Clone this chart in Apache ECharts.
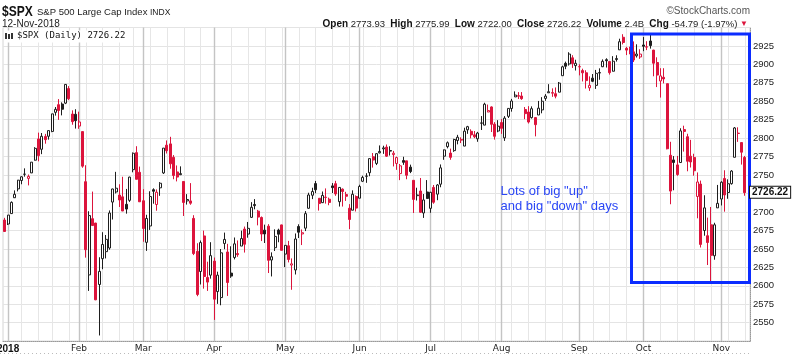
<!DOCTYPE html>
<html><head><meta charset="utf-8">
<script src="https://cdn.jsdelivr.net/npm/echarts@6/dist/echarts.min.js"></script>
<style>html,body{margin:0;padding:0;background:#fff}#c{width:800px;height:356px}</style>
</head><body><div id="c"></div>
<script>
// ---- data ----
const dates = [
"2017-12-29",
"2018-01-02","2018-01-03","2018-01-04","2018-01-05","2018-01-08","2018-01-09","2018-01-10","2018-01-11","2018-01-12","2018-01-16","2018-01-17","2018-01-18","2018-01-19","2018-01-22","2018-01-23","2018-01-24","2018-01-25","2018-01-26","2018-01-29","2018-01-30","2018-01-31",
"2018-02-01","2018-02-02","2018-02-05","2018-02-06","2018-02-07","2018-02-08","2018-02-09","2018-02-12","2018-02-13","2018-02-14","2018-02-15","2018-02-16","2018-02-20","2018-02-21","2018-02-22","2018-02-23","2018-02-26","2018-02-27","2018-02-28",
"2018-03-01","2018-03-02","2018-03-05","2018-03-06","2018-03-07","2018-03-08","2018-03-09","2018-03-12","2018-03-13","2018-03-14","2018-03-15","2018-03-16","2018-03-19","2018-03-20","2018-03-21","2018-03-22","2018-03-23","2018-03-26","2018-03-27","2018-03-28","2018-03-29",
"2018-04-02","2018-04-03","2018-04-04","2018-04-05","2018-04-06","2018-04-09","2018-04-10","2018-04-11","2018-04-12","2018-04-13","2018-04-16","2018-04-17","2018-04-18","2018-04-19","2018-04-20","2018-04-23","2018-04-24","2018-04-25","2018-04-26","2018-04-27","2018-04-30",
"2018-05-01","2018-05-02","2018-05-03","2018-05-04","2018-05-07","2018-05-08","2018-05-09","2018-05-10","2018-05-11","2018-05-14","2018-05-15","2018-05-16","2018-05-17","2018-05-18","2018-05-21","2018-05-22","2018-05-23","2018-05-24","2018-05-25","2018-05-29","2018-05-30","2018-05-31",
"2018-06-01","2018-06-04","2018-06-05","2018-06-06","2018-06-07","2018-06-08","2018-06-11","2018-06-12","2018-06-13","2018-06-14","2018-06-15","2018-06-18","2018-06-19","2018-06-20","2018-06-21","2018-06-22","2018-06-25","2018-06-26","2018-06-27","2018-06-28","2018-06-29",
"2018-07-02","2018-07-03","2018-07-05","2018-07-06","2018-07-09","2018-07-10","2018-07-11","2018-07-12","2018-07-13","2018-07-16","2018-07-17","2018-07-18","2018-07-19","2018-07-20","2018-07-23","2018-07-24","2018-07-25","2018-07-26","2018-07-27","2018-07-30","2018-07-31",
"2018-08-01","2018-08-02","2018-08-03","2018-08-06","2018-08-07","2018-08-08","2018-08-09","2018-08-10","2018-08-13","2018-08-14","2018-08-15","2018-08-16","2018-08-17","2018-08-20","2018-08-21","2018-08-22","2018-08-23","2018-08-24","2018-08-27","2018-08-28","2018-08-29","2018-08-30","2018-08-31",
"2018-09-04","2018-09-05","2018-09-06","2018-09-07","2018-09-10","2018-09-11","2018-09-12","2018-09-13","2018-09-14","2018-09-17","2018-09-18","2018-09-19","2018-09-20","2018-09-21","2018-09-24","2018-09-25","2018-09-26","2018-09-27","2018-09-28",
"2018-10-01","2018-10-02","2018-10-03","2018-10-04","2018-10-05","2018-10-08","2018-10-09","2018-10-10","2018-10-11","2018-10-12","2018-10-15","2018-10-16","2018-10-17","2018-10-18","2018-10-19","2018-10-22","2018-10-23","2018-10-24","2018-10-25","2018-10-26","2018-10-29","2018-10-30","2018-10-31",
"2018-11-01","2018-11-02","2018-11-05","2018-11-06","2018-11-07","2018-11-08","2018-11-09","2018-11-12"
];
const open = [
2689.15,
2683.73,2697.85,2719.31,2731.33,2742.67,2751.15,2745.55,2752.97,2770.18,2798.96,2784.99,2802.40,2802.60,2809.16,2835.05,2845.42,2846.24,2847.48,2867.23,2832.74,2832.41,
2816.45,2808.92,2741.06,2614.78,2690.95,2685.01,2601.78,2636.75,2646.27,2651.21,2713.46,2727.14,2722.99,2720.53,2710.42,2715.80,2757.37,2780.45,2753.78,
2715.22,2658.89,2681.06,2730.18,2710.18,2732.75,2752.91,2790.54,2792.31,2774.06,2754.27,2750.57,2741.38,2715.05,2714.99,2691.36,2646.71,2619.35,2667.57,2611.30,2614.41,
2633.45,2592.17,2584.04,2657.36,2645.82,2617.18,2638.41,2643.69,2653.83,2676.90,2670.10,2692.74,2710.11,2701.16,2692.56,2675.40,2680.80,2634.92,2651.65,2675.47,2682.51,
2642.96,2654.24,2628.08,2621.45,2680.34,2670.26,2678.12,2705.02,2722.70,2738.47,2718.59,2712.62,2719.71,2717.35,2735.39,2738.34,2713.98,2730.94,2723.60,2705.11,2702.43,2720.98,
2718.70,2741.67,2748.46,2753.25,2774.84,2765.84,2780.18,2785.60,2787.94,2783.21,2777.78,2765.79,2752.01,2769.73,2769.28,2760.79,2742.94,2722.12,2728.45,2698.69,2727.13,
2704.95,2733.27,2724.19,2737.68,2775.62,2788.56,2779.82,2783.14,2796.93,2797.36,2789.34,2811.35,2809.37,2804.55,2799.17,2820.68,2817.73,2835.49,2842.35,2819.00,2809.73,
2821.17,2800.48,2829.62,2840.29,2855.92,2856.79,2857.19,2838.90,2835.46,2827.88,2827.95,2831.44,2838.32,2853.93,2861.51,2860.99,2860.29,2862.35,2884.69,2901.45,2900.62,2908.94,2898.37,
2896.96,2891.59,2888.64,2868.26,2881.39,2871.57,2888.29,2896.85,2906.38,2903.83,2890.74,2906.60,2919.73,2936.76,2921.83,2921.75,2916.98,2911.65,2910.03,
2926.29,2923.80,2931.69,2919.35,2902.54,2877.53,2882.51,2873.90,2776.87,2770.54,2763.83,2767.05,2811.67,2802.00,2775.66,2773.94,2721.03,2737.87,2674.88,2667.86,2682.65,2640.68,2705.60,
2717.58,2745.45,2726.37,2738.40,2774.13,2806.38,2794.10,2773.93
];
const high = [
2692.12,
2695.89,2714.37,2729.29,2743.45,2748.51,2759.14,2750.80,2767.56,2787.85,2807.54,2807.04,2805.83,2810.33,2833.03,2842.24,2852.97,2848.56,2872.87,2870.62,2837.75,2839.26,
2835.96,2808.92,2763.39,2701.04,2727.67,2685.27,2638.67,2672.61,2668.84,2702.10,2731.51,2754.42,2737.60,2747.75,2731.26,2747.76,2780.64,2789.15,2761.52,
2730.89,2696.25,2728.09,2732.08,2730.60,2740.45,2786.57,2796.98,2801.90,2777.11,2763.03,2761.85,2741.38,2724.22,2739.14,2695.68,2657.67,2661.36,2674.78,2632.65,2659.07,
2638.30,2619.14,2649.86,2672.08,2656.88,2653.55,2665.45,2661.43,2674.72,2680.26,2686.49,2713.34,2717.49,2702.84,2693.94,2682.86,2683.55,2645.30,2676.48,2677.35,2682.87,
2655.27,2660.87,2637.14,2670.93,2683.35,2676.34,2701.27,2726.11,2732.86,2742.10,2718.59,2727.76,2731.96,2719.50,2739.19,2742.24,2733.33,2731.97,2727.36,2710.67,2729.34,2722.50,
2736.93,2749.16,2752.61,2772.39,2779.90,2779.39,2790.21,2789.80,2791.47,2789.06,2782.81,2774.99,2765.05,2774.86,2769.28,2764.17,2742.94,2732.91,2746.09,2724.34,2743.26,
2727.26,2736.58,2737.83,2764.41,2784.65,2795.58,2785.91,2799.22,2804.53,2801.19,2814.19,2816.76,2812.05,2809.70,2808.61,2829.99,2848.03,2845.57,2843.17,2821.74,2824.46,
2825.83,2829.91,2840.38,2853.29,2863.43,2862.44,2862.48,2842.20,2843.40,2843.11,2827.95,2850.49,2855.63,2859.76,2873.23,2867.54,2868.78,2876.16,2898.25,2903.77,2916.50,2912.46,2906.32,
2900.18,2894.21,2892.05,2883.81,2886.93,2892.52,2894.65,2906.76,2908.30,2904.65,2911.17,2912.36,2934.80,2940.91,2923.79,2923.95,2931.15,2927.22,2920.53,
2937.06,2931.42,2939.86,2919.78,2909.64,2894.83,2894.83,2874.02,2795.14,2775.77,2775.99,2813.46,2816.94,2806.04,2797.77,2778.94,2753.59,2742.59,2722.70,2692.38,2706.85,2685.43,2736.69,
2741.67,2756.55,2744.27,2756.82,2815.15,2814.75,2794.10,2775.99
];
const low = [
2673.61,
2682.36,2697.77,2719.07,2727.92,2737.60,2747.86,2736.06,2752.78,2769.64,2768.64,2778.38,2792.56,2798.08,2808.12,2830.59,2824.81,2830.94,2846.18,2851.48,2818.27,2813.04,
2812.70,2759.97,2638.17,2593.07,2681.33,2580.56,2532.69,2622.45,2637.08,2648.87,2689.82,2725.11,2706.76,2701.29,2697.77,2713.74,2753.78,2744.22,2713.54,
2659.65,2647.32,2675.75,2711.26,2701.74,2721.92,2751.54,2779.26,2758.68,2744.38,2741.47,2749.97,2694.59,2710.05,2709.79,2641.59,2585.89,2601.81,2596.12,2593.06,2609.72,
2553.80,2575.49,2573.61,2649.58,2586.27,2610.79,2635.78,2639.25,2653.83,2645.05,2665.16,2692.05,2703.63,2681.90,2660.61,2657.99,2617.32,2612.67,2647.16,2659.01,2648.04,
2625.41,2631.70,2594.62,2615.32,2664.70,2655.20,2674.14,2704.54,2717.45,2725.47,2701.91,2712.17,2711.36,2709.18,2725.70,2721.88,2707.38,2707.38,2714.99,2676.81,2702.43,2700.68,
2718.70,2740.54,2739.51,2748.46,2760.16,2763.59,2779.39,2778.78,2774.65,2776.52,2761.73,2757.12,2743.19,2763.91,2744.39,2752.68,2698.67,2715.60,2698.95,2691.99,2718.03,
2698.95,2711.16,2716.02,2733.52,2770.73,2786.24,2770.77,2781.53,2791.69,2793.39,2789.24,2805.89,2799.77,2800.01,2795.14,2811.12,2817.73,2835.26,2808.34,2798.11,2808.06,
2805.85,2796.34,2827.37,2835.98,2855.92,2853.09,2851.98,2825.81,2819.88,2826.58,2802.49,2831.44,2833.73,2850.62,2861.32,2856.05,2854.03,2862.35,2884.69,2893.50,2898.40,2895.22,2891.73,
2885.13,2876.92,2867.29,2864.12,2875.94,2866.78,2879.20,2896.39,2895.77,2886.16,2890.43,2903.82,2919.73,2927.11,2912.63,2913.70,2903.28,2909.27,2907.50,
2917.91,2919.37,2921.36,2883.92,2869.29,2855.04,2874.27,2784.86,2710.51,2729.44,2749.03,2766.91,2781.81,2755.18,2760.27,2749.22,2691.43,2651.89,2667.84,2628.16,2603.54,2635.34,2705.60,
2708.85,2700.44,2717.94,2737.08,2774.13,2794.99,2764.24,2722.00
];
const close = [
2673.61,
2695.81,2713.06,2723.99,2743.15,2747.71,2751.29,2748.23,2767.56,2786.24,2776.42,2802.56,2798.03,2810.30,2832.97,2839.13,2837.54,2839.25,2872.87,2853.53,2822.43,2823.81,
2821.98,2762.13,2648.94,2695.14,2681.66,2581.00,2619.55,2656.00,2662.94,2698.63,2731.20,2732.22,2716.26,2701.33,2703.96,2747.30,2779.60,2744.28,2713.83,
2677.67,2691.25,2720.94,2728.12,2726.80,2738.97,2786.57,2783.02,2765.31,2749.48,2747.33,2752.01,2712.92,2716.94,2711.93,2643.69,2588.26,2658.55,2612.62,2605.00,2640.87,
2581.88,2614.45,2644.69,2662.84,2604.47,2613.16,2656.87,2642.19,2663.99,2656.30,2677.84,2706.39,2708.64,2693.13,2670.14,2670.29,2634.56,2639.40,2666.94,2669.91,2648.05,
2654.80,2635.67,2629.73,2663.42,2672.63,2671.92,2697.79,2723.07,2727.72,2730.13,2711.45,2722.46,2720.13,2712.97,2733.01,2724.44,2733.29,2727.76,2721.33,2689.86,2724.01,2705.27,
2734.62,2746.87,2748.80,2772.35,2770.37,2779.03,2782.00,2786.85,2775.63,2782.49,2779.66,2773.75,2762.59,2767.32,2749.76,2754.88,2717.07,2723.06,2699.63,2716.31,2718.37,
2726.71,2713.22,2736.61,2759.82,2784.17,2793.84,2774.02,2798.29,2801.31,2798.43,2809.55,2815.62,2804.49,2801.83,2806.98,2820.40,2846.07,2837.44,2818.82,2802.60,2816.29,
2813.36,2827.22,2840.35,2850.40,2858.45,2857.70,2853.58,2833.28,2821.93,2839.96,2818.37,2840.69,2850.13,2857.05,2862.96,2861.82,2856.98,2874.69,2896.74,2897.52,2914.04,2901.13,2901.52,
2896.72,2888.60,2878.05,2871.68,2877.13,2887.89,2888.92,2904.18,2904.98,2888.80,2904.31,2907.95,2930.75,2929.67,2919.37,2915.56,2905.97,2914.00,2913.98,
2924.59,2923.43,2925.51,2901.61,2885.57,2884.43,2880.34,2785.68,2728.37,2767.13,2750.79,2809.92,2809.21,2768.78,2767.78,2755.88,2740.69,2656.10,2705.57,2658.69,2641.25,2682.63,2711.74,
2740.37,2723.06,2738.31,2755.45,2813.89,2806.83,2781.01,2726.22
];
const closeBeforeFirst = 2687.54;   // 28-Dec-2017 close, used only for the first candle's colour
const yTickValues = [2550,2575,2600,2625,2650,2675,2700,2725,2750,2775,2800,2825,2850,2875,2900,2925];
const monthNames = ["2018","Feb","Mar","Apr","May","Jun","Jul","Aug","Sep","Oct","Nov","Dec"];
const headerQuote = {open:"2773.93", high:"2775.99", low:"2722.00", close:"2726.22", volume:"2.4B", chg:"-54.79 (-1.97%)"};
const noteLines = ['Lots of big "up"', 'and big "down" days'];

// ---- styling ----
const RED = '#dc143c', BLK = '#1e1e1e';
const FONT = '"Liberation Sans", Arial, sans-serif';

const axisCats = dates.concat(['']);   // one empty slot at the right edge, like the original
const dObj = dates.map(d => new Date(d + 'T12:00:00Z'));
const isMonthStart = axisCats.map((d, i) => i > 0 && i < dates.length && dObj[i].getUTCMonth() !== dObj[i-1].getUTCMonth());
const isWeekStart = axisCats.map((d, i) => i > 0 && i < dates.length && dObj[i].getUTCDay() <= dObj[i-1].getUTCDay());

const items = dates.map((d, i) => {
  const pc = i === 0 ? closeBeforeFirst : close[i-1];
  const stroke = close[i] >= pc ? BLK : RED;
  const hollow = close[i] > open[i];
  return {
    value: [open[i], close[i], low[i], high[i]],
    itemStyle: {
      color: hollow ? '#ffffff' : stroke,
      color0: hollow ? '#ffffff' : stroke,
      borderColor: stroke, borderColor0: stroke, borderColorDoji: stroke
    }
  };
});

const chart = echarts.init(document.getElementById('c'), null, {renderer: 'canvas'});

const option = {
  animation: false,
  backgroundColor: '#ffffff',
  grid: {left: 3, right: 50, top: 27.5, bottom: 14.85, show: true, borderColor: '#d4d4d4', borderWidth: 1, containLabel: false, outerBoundsMode: 'none'},
  xAxis: [{
    type: 'category', data: axisCats, boundaryGap: true, gridIndex: 0,
    axisLine: {show: true, lineStyle: {color: '#9a9a9a', type: 'dotted', width: 1}},
    axisTick: {show: false},
    axisLabel: {
      show: true, interval: (i) => isMonthStart[i], margin: 3, hideOverlap: false,
      color: '#222', fontFamily: '"DejaVu Sans", Verdana, sans-serif', fontSize: 9,
      formatter: (v) => {
        const m = new Date(v + 'T12:00:00Z').getUTCMonth();
        return m === 0 ? '{y|' + monthNames[0] + '}' : monthNames[m];
      },
      rich: {y: {fontWeight: 'bold', fontSize: 10, fontFamily: FONT, color: '#111'}}
    },
    splitLine: {show: true, alignWithLabel: true, interval: (i) => isWeekStart[i] && !isMonthStart[i], lineStyle: {color: '#e6e6e6', width: 1}}
  }, {
    type: 'category', data: axisCats, boundaryGap: true, gridIndex: 0, position: 'bottom',
    axisLine: {show: false}, axisTick: {show: false}, axisLabel: {show: false},
    splitLine: {show: true, alignWithLabel: true, interval: (i) => isMonthStart[i], lineStyle: {color: '#c4c4c4', width: 1.4}}
  }],
  yAxis: {
    type: 'value', position: 'right', min: 2525, max: 2950, interval: 25, scale: true,
    axisLine: {show: true, lineStyle: {color: '#9a9a9a', type: 'dotted'}},
    axisTick: {show: false},
    axisLabel: {
      margin: 3, color: '#222', fontFamily: FONT, fontSize: 9.5,
      formatter: (v) => yTickValues.indexOf(v) >= 0 ? String(v) : ''
    },
    splitLine: {show: true, lineStyle: {color: '#e4e4e4', width: 1}}
  },
  series: [{
    type: 'candlestick', xAxisIndex: 0, yAxisIndex: 0,
    data: items, barWidth: 2.5,
    itemStyle: {borderWidth: 1},
    emphasis: {disabled: true}
  }]
};
chart.setOption(option);

const lastY = chart.convertToPixel({yAxisIndex: 0}, close[close.length - 1]);

chart.setOption({
  graphic: [
    {type: 'text', x: 2, y: 4, scaleX: 0.8, scaleY: 1, style: {text: '$SPX', font: 'bold 15px ' + FONT, fill: '#111'}},
    {type: 'text', left: 37, top: 7, style: {text: 'S&P 500 Large Cap Index', font: '9.5px ' + FONT, fill: '#222'}},
    {type: 'text', left: 150, top: 8, style: {text: 'INDX', font: '8.5px ' + FONT, fill: '#222'}},
    {type: 'text', left: 2, top: 19, style: {text: '12-Nov-2018', font: '10px ' + FONT, fill: '#222'}},
    {type: 'text', right: 50, top: 6, style: {text: '\u00A9StockCharts.com', font: '10px ' + FONT, fill: '#555'}},
    {type: 'text', right: 52, top: 19, style: {
      text: '{b|Open} ' + headerQuote.open + '  {b|High} ' + headerQuote.high + '  {b|Low} ' + headerQuote.low +
            '  {b|Close} ' + headerQuote.close + '  {b|Volume} ' + headerQuote.volume + '  {b|Chg} ' + headerQuote.chg + ' {r|\u25BC}',
      font: '9.5px ' + FONT, fill: '#222',
      rich: {b: {fontWeight: 'bold', fontSize: 10, fontFamily: FONT, fill: '#111'}, r: {fill: RED, fontSize: 8, fontFamily: FONT}}
    }},
    // legend box inside the plot
    {type: 'rect', shape: {x: 4, y: 30.5, width: 124, height: 12}, style: {fill: '#ffffff'}, z: 10},
    {type: 'rect', shape: {x: 5, y: 33, width: 2, height: 6}, style: {fill: '#333'}, z: 11},
    {type: 'rect', shape: {x: 8, y: 34, width: 2, height: 5}, style: {fill: '#333'}, z: 11},
    {type: 'rect', shape: {x: 11, y: 33, width: 2, height: 6}, style: {fill: '#333'}, z: 11},
    {type: 'text', left: 17, top: 31.5, z: 11, style: {text: '$SPX (Daily) 2726.22', font: '9px "DejaVu Sans Mono", "Liberation Mono", monospace', fill: '#111'}},
    // annotation
    {type: 'rect', shape: {x: 631.5, y: 34, width: 118, height: 248.5}, style: {fill: 'none', stroke: '#0b2cff', lineWidth: 3}, z: 20},
    {type: 'text', left: 500.5, top: 184, z: 20, style: {text: noteLines.join('\n'), font: '13px ' + FONT, fill: '#2a46f5', lineHeight: 15}},
    // last price tag
    {type: 'text', left: 749, top: lastY - 7, z: 30, style: {
      text: close[close.length - 1].toFixed(2), font: 'bold 10px ' + FONT, fill: '#111',
      backgroundColor: '#fff', borderColor: '#111', borderWidth: 1, padding: [1, 2, 0, 2]
    }},
    {type: 'line', shape: {x1: 0, y1: 353.5, x2: 750, y2: 353.5}, style: {stroke: '#bbb', lineDash: [1, 3], lineWidth: 1}}
  ]
});
</script></body></html>
